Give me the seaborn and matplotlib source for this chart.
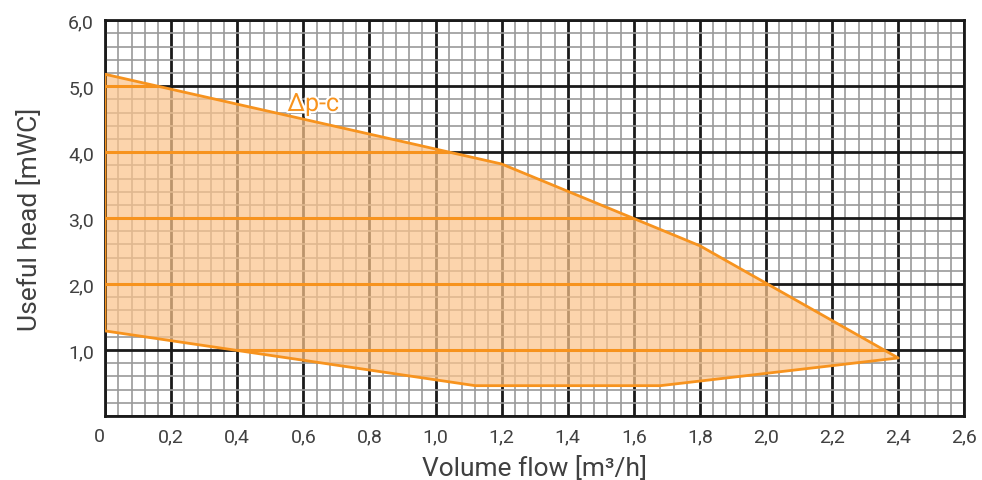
import matplotlib
matplotlib.use("Agg")
import matplotlib.pyplot as plt
import matplotlib.patheffects as pe
from matplotlib.ticker import MultipleLocator, FixedLocator
import seaborn as sns
import pandas as pd
import numpy as np

# outline of the operating area (volume flow m3/h, head mWC), clockwise
flow = [0.0, 1.2, 1.8, 2.4, 1.68, 1.12, 0.0, 0.0]
head = [5.18, 3.82, 2.58, 0.88, 0.46, 0.46, 1.29, 5.18]
head_lines = [1.0, 2.0, 3.0, 4.0, 5.0]
x_ticks = [0.0, 0.2, 0.4, 0.6, 0.8, 1.0, 1.2, 1.4, 1.6, 1.8, 2.0, 2.2, 2.4, 2.6]
y_ticks = [0, 1, 2, 3, 4, 5, 6]
curve_label = "Δp-c"

orange = "#F7931E"
text_col = "#404040"

sns.set_style("white")
plt.rcParams['font.family'] = ['Roboto', 'DejaVu Sans']

fig = plt.figure(figsize=(9.82, 4.81), dpi=100)
ax = fig.add_axes([0.107, 0.133, 0.875, 0.823])

ax.set_xlim(0, 2.6)
ax.set_ylim(0, 6)

# grid
ax.xaxis.set_major_locator(FixedLocator(x_ticks))
ax.yaxis.set_major_locator(FixedLocator(y_ticks))
ax.xaxis.set_minor_locator(MultipleLocator(0.04))
ax.yaxis.set_minor_locator(MultipleLocator(0.2))
ax.grid(which="minor", color="#9a9a9a", linewidth=1.2, zorder=0)
ax.grid(which="major", color="#1a1a1a", linewidth=2.0, zorder=0)
ax.set_axisbelow(True)

df = pd.DataFrame({"flow": flow, "head": head})

poly = ax.fill(df["flow"], df["head"], color="#FBC48C", alpha=0.72,
               linewidth=0, zorder=2)[0]

for h in head_lines:
    ln = ax.axhline(h, color=orange, linewidth=2.2, zorder=3)
    ln.set_clip_path(poly)

sns.lineplot(data=df, x="flow", y="head", sort=False, estimator=None,
             color=orange, linewidth=2.0, ax=ax, zorder=4)

ax.text(0.63, 4.73, curve_label, color=orange, fontsize=18,
        ha="center", va="center", zorder=5,
        path_effects=[pe.withStroke(linewidth=3, foreground="white")])

ax.set_xticklabels([("%.1f" % v).replace(".", ",") if v else "0" for v in x_ticks])
ax.set_yticklabels([("%.1f" % v).replace(".", ",") if v else "" for v in y_ticks])
ax.get_xticklabels()[0].set_ha("right")
ax.tick_params(axis="both", which="both", length=0, labelsize=14,
               colors=text_col, pad=8)

ax.set_xlabel("Volume flow [m³/h]", fontsize=19, color=text_col, labelpad=7)
ax.set_ylabel("Useful head [mWC]", fontsize=19, color=text_col, labelpad=19)

for s in ax.spines.values():
    s.set_color("#1a1a1a")
    s.set_linewidth(2.0)

fig.savefig("out.png", dpi=100)
